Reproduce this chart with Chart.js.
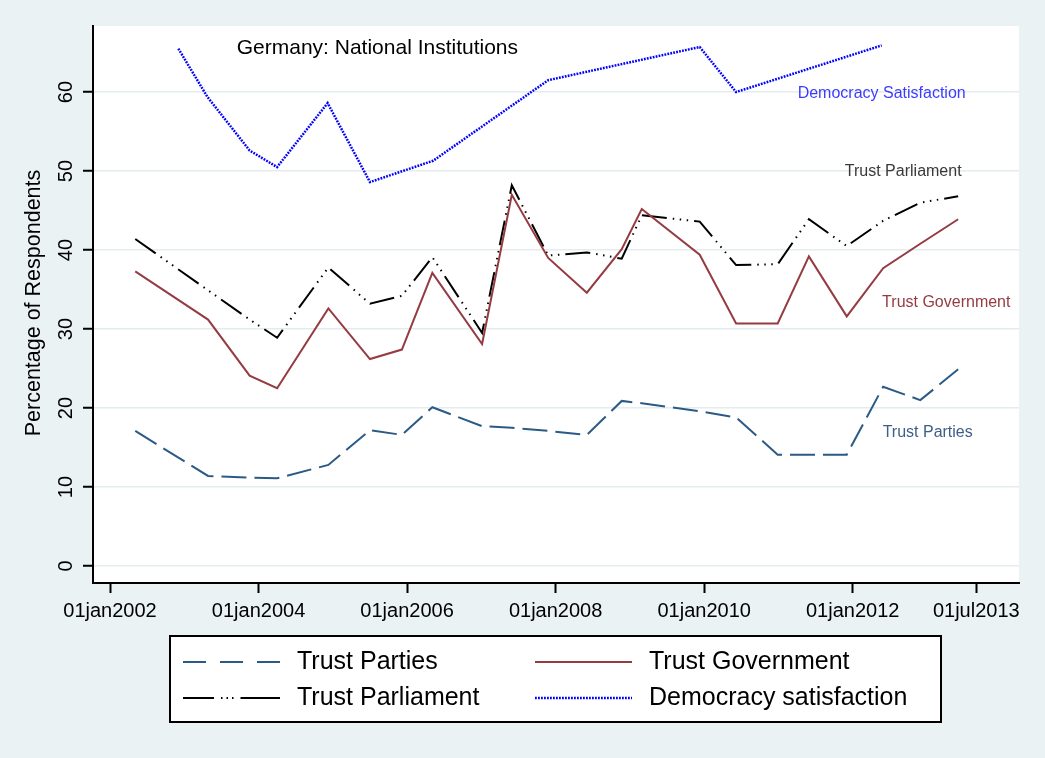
<!DOCTYPE html>
<html><head><meta charset="utf-8">
<script src="https://cdn.jsdelivr.net/npm/chart.js@4.4.1/dist/chart.umd.min.js"></script>
<style>html,body{margin:0;padding:0;background:#eaf2f3;}canvas{display:block;}</style>
</head><body>
<canvas id="c" width="1045" height="758"></canvas>
<script>
// ---- data (decimal years) ----
const trustDates = [2002.34, 2003.32, 2003.88, 2004.25, 2004.94, 2005.50, 2005.93, 2006.34, 2007.01, 2007.41, 2007.90, 2008.42, 2008.89, 2009.16, 2009.94, 2010.43, 2010.99, 2011.41, 2011.92, 2012.41, 2012.91, 2013.42];
const trustParties    = [17.1, 11.4, 11.2, 11.1, 12.8, 17.2, 16.6, 20.1, 17.7, 17.5, 17.1, 16.6, 20.9, 20.6, 19.6, 18.8, 14.1, 14.1, 14.1, 22.7, 21.0, 24.9];
const trustGovernment = [37.3, 31.2, 24.1, 22.5, 32.6, 26.2, 27.4, 37.1, 28.1, 47.0, 39.0, 34.6, 40.1, 45.2, 39.4, 30.7, 30.7, 39.2, 31.6, 37.7, 40.8, 43.9];
const trustParliament = [41.4, 34.9, 31.2, 28.9, 37.8, 33.2, 34.2, 39.1, 29.5, 48.2, 39.3, 39.7, 38.9, 44.4, 43.6, 38.1, 38.2, 43.9, 40.5, 43.7, 46.0, 46.8];
const demDates        = [2002.92, 2003.31, 2003.88, 2004.25, 2004.93, 2005.50, 2006.35, 2007.90, 2009.94, 2010.43, 2012.39];
const demSatisfaction = [65.5, 59.4, 52.6, 50.5, 58.6, 48.6, 51.3, 61.5, 65.7, 60.0, 65.9];
const xTickValues = [2002, 2004, 2006, 2008, 2010, 2012, 2013.664];
const xTickLabels = ['01jan2002', '01jan2004', '01jan2006', '01jan2008', '01jan2010', '01jan2012', '01jul2013'];
const yTickValues = [0, 10, 20, 30, 40, 50, 60];
const seriesLabels = ['Trust Parties', 'Trust Government', 'Trust Parliament', 'Democracy satisfaction'];
const chartTitle = 'Germany: National Institutions';
const yTitle = 'Percentage of Respondents';

// ---- styling / text placement ----
const FONT = '"Liberation Sans", Arial, sans-serif';
const annotations = [
  {text: chartTitle, x: 2005.60, y: 64.8, color: '#000000', size: 21},
  {text: 'Democracy Satisfaction', x: 2012.39, y: 59.3, color: '#3c3cff', size: 16},
  {text: 'Trust Parliament', x: 2012.68, y: 49.4, color: '#3a3a3a', size: 16},
  {text: 'Trust Government', x: 2013.26, y: 32.8, color: '#943c42', size: 16},
  {text: 'Trust Parties', x: 2013.01, y: 16.35, color: '#3d5f86', size: 16}
];
const legendDash = [[23, 14], [], [31, 7, 1.5, 4, 1.5, 4, 1.5, 7, 60], [1.8, 1.2]];

const toPts = (xs, ys) => xs.map((d, i) => ({x: d, y: ys[i]}));

const bgPlugin = {
  id: 'bg',
  beforeDraw(chart) {
    const {ctx, chartArea: a} = chart;
    ctx.save();
    ctx.fillStyle = '#eaf2f3';
    ctx.fillRect(0, 0, chart.width, chart.height);
    ctx.fillStyle = '#ffffff';
    ctx.fillRect(a.left, a.top, a.right - a.left, a.bottom - a.top);
    ctx.restore();
  }
};

const textPlugin = {
  id: 'texts',
  afterDraw(chart) {
    const {ctx, chartArea: a, scales} = chart;
    const xs = scales.x, ys = scales.y;
    ctx.save();
    // y tick labels (rotated)
    ctx.fillStyle = '#000';
    ctx.font = '20px ' + FONT;
    ctx.textAlign = 'center';
    ctx.textBaseline = 'alphabetic';
    yTickValues.forEach(v => {
      const py = ys.getPixelForValue(v);
      ctx.save();
      ctx.translate(72, py);
      ctx.rotate(-Math.PI / 2);
      ctx.fillText(String(v), 0, 0);
      ctx.restore();
    });
    // y title
    ctx.save();
    ctx.font = '21.5px ' + FONT;
    ctx.translate(40, 303);
    ctx.rotate(-Math.PI / 2);
    ctx.fillText(yTitle, 0, 0);
    ctx.restore();
    // annotations
    annotations.forEach(t => {
      ctx.font = t.size + 'px ' + FONT;
      ctx.fillStyle = t.color;
      ctx.textAlign = 'center';
      ctx.fillText(t.text, xs.getPixelForValue(t.x), ys.getPixelForValue(t.y));
    });
    // legend
    const L = {left: 170, top: 636, width: 771, height: 86};
    ctx.fillStyle = '#ffffff';
    ctx.fillRect(L.left, L.top, L.width, L.height);
    ctx.strokeStyle = '#000';
    ctx.lineWidth = 2;
    ctx.setLineDash([]);
    ctx.strokeRect(L.left, L.top, L.width, L.height);
    const colX = [183, 535];
    const rowY = [662, 698];
    chart.data.datasets.forEach((ds, i) => {
      const cx = colX[i % 2], cy = rowY[Math.floor(i / 2)];
      ctx.save();
      ctx.strokeStyle = ds.borderColor;
      ctx.lineWidth = ds.borderWidth;
      ctx.setLineDash(legendDash[i]);
      ctx.beginPath();
      ctx.moveTo(cx, cy);
      ctx.lineTo(cx + 97, cy);
      ctx.stroke();
      ctx.restore();
      ctx.fillStyle = '#000';
      ctx.font = '25px ' + FONT;
      ctx.textAlign = 'left';
      ctx.textBaseline = 'middle';
      ctx.fillText(ds.label, cx + 114, cy);
    });
    ctx.restore();
  }
};

new Chart(document.getElementById('c'), {
  type: 'line',
  data: {
    datasets: [
      {label: seriesLabels[0], data: toPts(trustDates, trustParties), borderColor: '#2b5a85', borderWidth: 2, borderDash: [25, 8]},
      {label: seriesLabels[1], data: toPts(trustDates, trustGovernment), borderColor: '#943c42', borderWidth: 2},
      {label: seriesLabels[2], data: toPts(trustDates, trustParliament), borderColor: '#000000', borderWidth: 2, borderDash: [25, 6, 1.5, 5.5, 1.5, 5.5, 1.5, 6]},
      {label: seriesLabels[3], data: toPts(demDates, demSatisfaction), borderColor: '#0000ff', borderWidth: 2.5, borderDash: [1.8, 1.2]}
    ]
  },
  options: {
    responsive: false,
    animation: false,
    devicePixelRatio: 1,
    elements: {point: {radius: 0}, line: {tension: 0, fill: false, borderCapStyle: 'butt', borderJoinStyle: 'miter'}},
    layout: {padding: {left: 0, top: 26, right: 26, bottom: 125}},
    plugins: {legend: {display: false}, tooltip: {enabled: false}, title: {display: false}},
    scales: {
      x: {
        type: 'linear', min: 2001.771, max: 2014.239,
        afterBuildTicks: s => { s.ticks = xTickValues.map(v => ({value: v})); },
        afterFit: s => { s.height = 50; },
        ticks: {autoSkip: false, maxRotation: 0, minRotation: 0, padding: 6, color: '#000',
          font: {family: FONT, size: 20},
          callback: (v, i) => xTickLabels[i]},
        grid: {drawOnChartArea: false, drawTicks: true, tickLength: 10, tickColor: '#000', tickWidth: 2},
        border: {color: '#000', width: 2}
      },
      y: {
        type: 'linear', min: -2.15, max: 68.36,
        afterBuildTicks: s => { s.ticks = yTickValues.map(v => ({value: v})); },
        afterFit: s => { s.width = 93; },
        ticks: {display: false},
        grid: {color: '#e3ecef', lineWidth: 1.5, drawTicks: true, tickLength: 10, tickColor: '#000', tickWidth: 2},
        border: {color: '#000', width: 2}
      }
    }
  },
  plugins: [bgPlugin, textPlugin]
});
</script>
</body></html>
